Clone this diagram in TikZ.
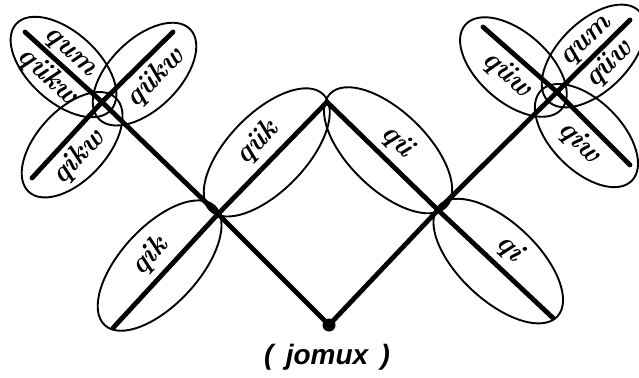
\documentclass[tikz,border=0pt]{standalone}
\usepackage{fontspec}
\setsansfont{Liberation Sans}
\usetikzlibrary{calc,shapes.geometric}

\begin{document}
\begin{tikzpicture}[x=1pt,y=-1pt,
    stem/.style={line width=4.8pt, line cap=round, line join=round},
    lbl/.style={sloped, inner sep=1pt, font=\bfseries\itshape\fontsize{29}{30}\selectfont},
    leafbig/.style={draw, ellipse, line width=1.9pt, minimum width=162pt, minimum height=78pt, inner sep=0pt},
    leafsmall/.style={draw, ellipse, line width=1.9pt, minimum width=128pt, minimum height=70pt, inner sep=0pt}]

    % Rahmen
    \useasboundingbox (0,0) rectangle (639,377);

    % Blatt-Makro: Ellipse längs (#2)--(#3), seitlich verschoben um #4
    \newcommand{\petal}[5]{%
        \path let \p1=($(#3)-(#2)$), \n1={atan2(\y1,\x1)} in
            node[#1, rotate=\n1] (#5) at ($(#2)!.5!(#3)!#4!90:(#3)$) {};
    }

    % Knoten
    \coordinate (L) at (218,214);
    \coordinate (T) at (327,102);
    \coordinate (R) at (438,210);
    \node[circle, fill, inner sep=0pt, minimum size=13pt] (root) at (329,325) {};
    \coordinate (qikend) at (113,328);
    \coordinate (qiend) at (553,318);
    \coordinate (hubL) at (102,102);
    \coordinate (hubR) at (557,92);
    \coordinate (lo) at (25,32);
    \coordinate (ro) at (173,32);
    \coordinate (lu) at (32,178);
    \coordinate (hlo) at (483,27);
    \coordinate (hro) at (630,20);
    \coordinate (hru) at (630,165);

    % Blätter
    \petal{leafbig}{qikend}{L}{8pt}{bqik}
    \petal{leafbig}{L}{T}{8pt}{bquk}
    \petal{leafbig}{T}{R}{8pt}{bqu}
    \petal{leafbig}{R}{qiend}{4pt}{bqi}
    \petal{leafsmall}{lo}{hubL}{0pt}{bqum}
    \petal{leafsmall}{hubL}{ro}{-10pt}{bqukw}
    \petal{leafsmall}{lu}{hubL}{-7pt}{bqikw}
    \petal{leafsmall}{hlo}{hubR}{-10pt}{bquw}
    \petal{leafsmall}{hubR}{hro}{0pt}{bqumr}
    \petal{leafsmall}{hubR}{hru}{-10pt}{bqiw}

    % Stiele
    \draw[stem] (hubL) -- (L) -- (root) -- (R) -- (hubR);
    \draw[stem] (qikend) -- node[lbl, above=5pt] (tqik) {qik} (L);
    \draw[stem] (L) -- node[lbl, above=5pt] (tquk) {qük} (T);
    \draw[stem] (T) -- node[lbl, above=5pt] (tqu) {qü} (R);
    \draw[stem] (R) -- node[lbl, above=5pt] (tqi) {qi} (qiend);

    % Linkes Kleeblatt
    \draw[stem] (lo) -- (hubL)
        node[lbl, pos=.45, above=1pt] (tquml) {qum}
        node[lbl, pos=.45, below=1pt] (tqukwl) {qükw};
    \draw[stem] (hubL) -- (ro) node[lbl, pos=.55, below=4pt] (tqukw) {qükw};
    \draw[stem] (lu) -- (hubL) node[lbl, pos=.45, below=4pt] (tqikw) {qikw};

    % Rechtes Kleeblatt
    \draw[stem] (hlo) -- (hubR) node[lbl, pos=.5, below=4pt] (tquw) {qüw};
    \draw[stem] (hubR) -- (hro)
        node[lbl, pos=.55, above=1pt] (tqumr) {qum}
        node[lbl, pos=.55, below=1pt] (tquwr) {qüw};
    \draw[stem] (hubR) -- (hru) node[lbl, pos=.5, below=4pt] (tqiw) {qiw};

    % Unterschrift
    \node[font=\sffamily\bfseries\itshape\fontsize{28}{30}\selectfont] (jomux) at (327,357) {(\ \,jomux\ \,)};

\end{tikzpicture}
\end{document}
